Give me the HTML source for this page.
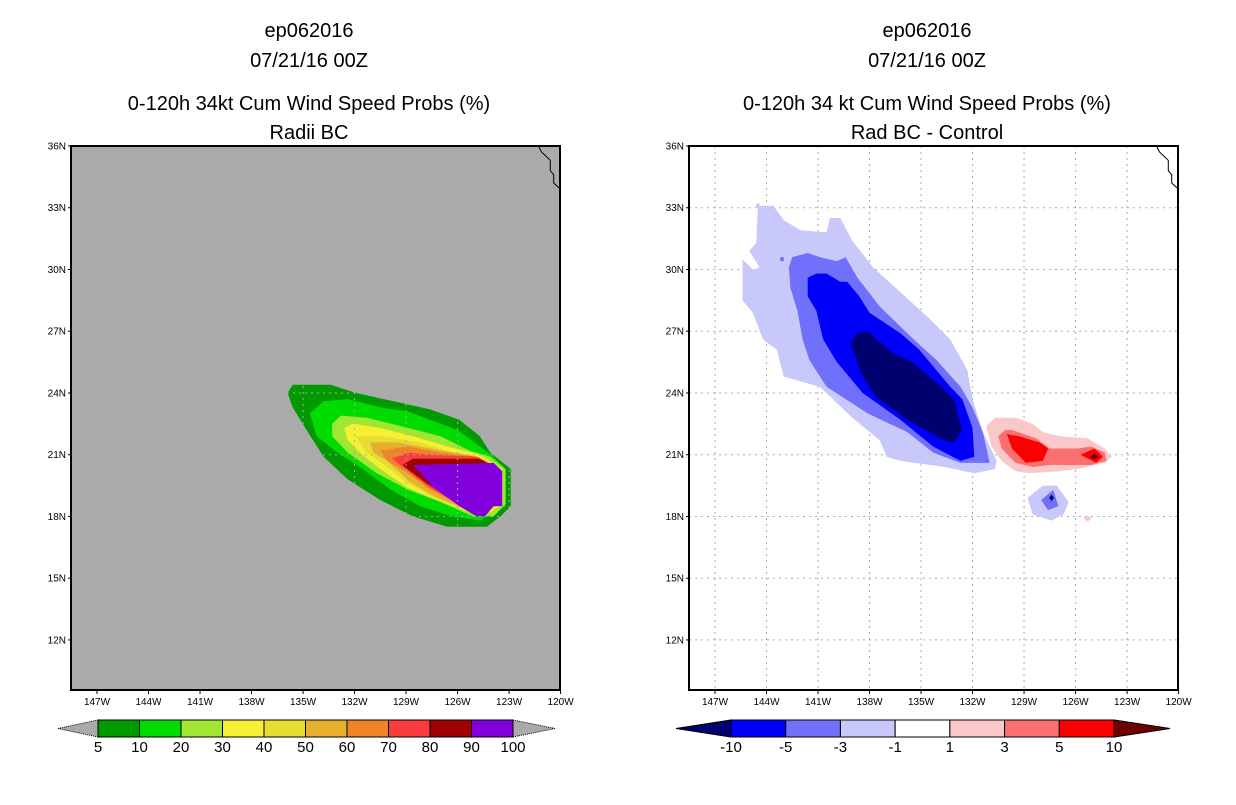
<!DOCTYPE html>
<html><head><meta charset="utf-8"><style>
body{margin:0;background:#fff;width:1236px;height:800px;overflow:hidden;font-family:"Liberation Sans",sans-serif}
svg text{font-family:"Liberation Sans",sans-serif}
</style></head><body>
<svg id="s" width="1236" height="800" xmlns="http://www.w3.org/2000/svg">
<defs><clipPath id="clipL"><polygon id="clipPoly" points=""/></clipPath></defs>
<g font-size="20" text-anchor="middle" fill="#000">
<text x="309" y="37">ep062016</text><text x="309" y="67">07/21/16 00Z</text>
<text x="309" y="110">0-120h 34kt Cum Wind Speed Probs (%)</text><text x="309" y="139">Radii BC</text></g>
<g font-size="20" text-anchor="middle" fill="#000">
<text x="927" y="37">ep062016</text><text x="927" y="67">07/21/16 00Z</text>
<text x="927" y="110">0-120h 34 kt Cum Wind Speed Probs (%)</text><text x="927" y="139">Rad BC - Control</text></g>
<rect x="71" y="146" width="489" height="544" fill="#aaaaaa"/>
<rect x="689" y="146" width="489" height="544" fill="#fff"/>
<g id="L"></g>
<g id="LG" clip-path="url(#clipL)"></g>
<g id="R"></g>
<g id="A"></g>
<g id="CB"></g>
</svg>
<script>
const lonTicks=[147,144,141,138,135,132,129,126,123,120];
const latTicks=[36,33,30,27,24,21,18,15,12];
const leftLevels=[5,10,20,30,40,50,60,70,80,90,100];
const leftColors=["#009a00","#00dc00","#a0e632","#f5f032","#e6dc32","#e6af2d","#f08228","#fa3c3c","#a00000","#8200dc"];
const rightLabels=["-10","-5","-3","-1","1","3","5","10"];
const rightColors=["#000070","#0000fa","#7070fa","#c8c8fa","#ffffff","#fac8c8","#fa7070","#fa0000","#6e0000"];
const L5=[[135.9,24.0],[135.6,24.4],[133.4,24.4],[131.9,24.0],[129.2,23.5],[127.6,23.2],[125.9,22.7],[124.7,21.9],[124.1,21.1],[122.9,20.3],[122.9,18.5],[123.5,18.0],[124.3,17.5],[126.6,17.5],[128.6,18.0],[130.5,18.8],[132.4,19.8],[133.8,20.9],[134.8,22.2],[135.6,23.3]];
const L10=[[134.6,23.0],[133.8,23.6],[132.4,23.7],[130.5,23.3],[128.9,23.1],[127.6,22.7],[126.0,22.2],[124.7,21.4],[123.9,20.9],[123.2,20.3],[123.2,18.5],[124.7,17.8],[126.3,18.0],[128.2,18.5],[129.9,19.3],[131.5,20.3],[133.0,21.1],[134.2,21.9]];
const L20=[[133.3,22.5],[132.8,22.9],[131.3,22.8],[128.9,22.3],[127.0,21.9],[125.3,21.2],[124.1,20.9],[123.2,20.3],[123.2,18.6],[123.9,18.0],[125.1,18.0],[127.0,18.7],[128.9,19.3],[130.7,20.1],[132.4,21.1],[133.3,21.9]];
const L30=[[132.6,22.3],[132.1,22.5],[130.5,22.3],[128.6,21.9],[126.6,21.4],[124.7,21.0],[123.4,20.3],[123.4,18.6],[124.1,18.2],[125.3,18.2],[127.2,18.8],[128.9,19.4],[130.5,20.3],[131.7,21.1],[132.4,21.7]];
const L40=[[131.9,21.9],[130.5,21.9],[128.2,21.6],[126.6,21.2],[124.7,20.9],[123.4,20.3],[123.4,18.6],[124.2,18.3],[125.5,18.3],[127.4,18.9],[128.9,19.6],[130.1,20.4],[131.3,21.1],[131.7,21.6]];
const L50=[[131.1,21.6],[129.5,21.6],[127.6,21.3],[124.9,20.9],[123.5,20.3],[123.5,18.6],[124.3,18.3],[125.7,18.4],[127.4,19.0],[128.8,19.7],[130.1,20.7],[130.9,21.1]];
const L60=[[130.5,21.2],[128.9,21.4],[127.0,21.1],[124.9,20.9],[123.5,20.3],[123.5,18.6],[124.4,18.4],[125.7,18.5],[127.6,19.3],[128.9,20.1],[130.1,20.7]];
const L70=[[129.8,20.8],[128.9,21.1],[127.4,21.0],[124.9,20.9],[123.6,20.3],[123.6,18.6],[124.5,18.5],[125.9,18.6],[127.6,19.4],[129.2,20.4]];
const L80=[[129.2,20.5],[128.6,20.8],[124.7,20.8],[123.6,20.3],[123.6,18.6],[124.5,18.6],[126.0,18.7],[127.8,19.6],[128.9,20.3]];
const L90=[[128.6,20.5],[123.9,20.6],[123.4,20.2],[123.4,18.5],[123.9,18.5],[124.4,18.0],[124.9,18.0],[125.9,18.5],[127.4,19.4]];
const RLB=[[144.5,33.1],[143.6,33.1],[143.0,32.4],[142.0,31.9],[140.5,31.8],[140.3,32.5],[139.7,32.5],[139.0,31.4],[137.8,30.1],[136.2,28.9],[134.5,27.6],[133.3,26.6],[132.3,25.1],[132.0,23.7],[131.4,22.1],[130.6,20.7],[130.7,20.3],[131.9,20.1],[133.6,20.4],[136.2,20.7],[137.0,20.9],[137.4,21.7],[139.0,22.8],[140.9,24.3],[143.0,24.8],[143.4,26.1],[144.2,26.6],[144.8,27.9],[145.4,28.5],[145.4,29.6],[145.4,30.5],[144.8,30.0],[144.4,30.1],[145.0,30.9],[144.6,31.3]];
const RMB=[[142.7,30.1],[142.5,30.6],[141.6,30.8],[140.9,30.6],[139.9,30.4],[139.4,30.6],[138.7,29.6],[137.4,28.2],[135.8,26.9],[134.9,26.2],[134.1,25.6],[132.7,24.3],[132.0,23.3],[131.4,22.1],[131.0,20.6],[132.7,20.6],[134.3,21.1],[135.8,22.1],[138.1,23.0],[140.5,24.3],[141.5,25.6],[141.9,26.6],[142.2,28.0],[142.6,29.1]];
const RB=[[141.6,29.6],[141.1,29.8],[140.5,29.8],[139.7,29.4],[139.3,29.4],[138.6,28.7],[138.0,27.9],[136.2,26.9],[135.1,26.1],[133.3,24.3],[132.6,23.7],[132.0,22.3],[131.9,20.9],[132.7,20.7],[134.3,21.4],[136.2,22.7],[138.4,24.0],[139.9,25.5],[140.7,26.6],[141.1,28.0],[141.6,28.7]];
const RN=[[139.1,26.4],[138.7,26.9],[138.1,27.0],[136.6,25.9],[135.5,25.5],[134.1,24.5],[133.1,23.7],[132.6,22.2],[133.1,21.6],[133.7,21.7],[135.8,22.7],[137.6,23.8],[138.4,24.8],[138.7,25.5]];
const RP=[[131.2,22.4],[130.7,22.8],[129.5,22.8],[128.5,22.5],[127.9,22.1],[126.9,21.9],[125.3,21.8],[124.3,21.3],[123.9,20.9],[124.3,20.6],[125.9,20.3],[126.9,20.2],[128.7,20.1],[129.5,20.2],[130.3,20.7],[130.9,21.4]];
const RS=[[130.5,21.9],[130.1,22.2],[129.7,22.2],[128.3,21.8],[127.5,21.3],[126.7,21.3],[125.9,21.3],[125.1,21.4],[124.3,21.1],[124.2,20.7],[125.1,20.5],[126.3,20.5],[127.5,20.5],[128.5,20.4],[129.5,20.6],[130.3,21.3]];
const RR1=[[130.0,22.0],[129.3,21.9],[128.1,21.6],[127.6,21.3],[127.9,20.7],[128.9,20.6],[129.7,21.3]];
const RR2=[[125.7,21.0],[124.9,21.3],[124.4,20.9],[124.8,20.6]];
const RD=[[125.15,20.9],[124.9,21.05],[124.65,20.9],[124.9,20.75]];
const SBL=[[128.8,18.9],[127.9,19.5],[127.1,19.5],[126.4,18.7],[126.7,18.1],[127.4,17.8],[128.5,18.1]];
const SBM=[[128.0,18.8],[127.3,19.3],[127.0,18.5],[127.6,18.3]];
const SBN=[[127.55,18.9],[127.4,19.05],[127.25,18.9],[127.4,18.75]];
const PD=[[125.55,17.9],[125.3,18.05],[125.05,17.9],[125.3,17.75]];
const DOT1=[[144.6,33.2],[144.4,33.2],[144.4,33.0],[144.6,33.0]];
const DOT2=[[143.2,30.6],[143.0,30.6],[143.0,30.4],[143.2,30.4]];
const COAST=[[121.3,36],[121.1,35.7],[120.9,35.55],[120.6,35.3],[120.6,34.8],[120.4,34.6],[120.4,34.2],[120,33.9]];

const NS="http://www.w3.org/2000/svg";
function xL(lon){return 97+(147-lon)*17.17;}
function xR(lon){return 715+(147-lon)*17.17;}
function yP(lat){return 146+(36-lat)*20.58;}
function mk(tag,attrs,parent){const e=document.createElementNS(NS,tag);for(const k in attrs)e.setAttribute(k,attrs[k]);parent.appendChild(e);return e;}
function pts(a,xf){return a.map(q=>xf(q[0]).toFixed(1)+','+yP(q[1]).toFixed(1)).join(' ');}
function poly(a,xf,fill,parent,name){
  const p=mk('polygon',{points:pts(a,xf),fill:fill},parent);
  
  
}
const Lg=document.getElementById('L'),LG=document.getElementById('LG'),Rg=document.getElementById('R'),A=document.getElementById('A'),CB=document.getElementById('CB');
[L5,L10,L20,L30,L40,L50,L60,L70,L80,L90].forEach((c,i)=>poly(c,xL,leftColors[i],Lg,'contour-'+leftLevels[i]));
document.getElementById('clipPoly').setAttribute('points',pts(L5,xL));
function grid(parent,xf,x0){
  lonTicks.forEach(l=>{const g=mk('line',{x1:xf(l),x2:xf(l),y1:146,y2:690,stroke:'#aaa','stroke-dasharray':'2,4'},parent);
  
  });
  latTicks.forEach(l=>{const g=mk('line',{x1:x0,x2:x0+489,y1:yP(l),y2:yP(l),stroke:'#aaa','stroke-dasharray':'2,4'},parent);
  
  });
}
grid(LG,xL,71);
grid(Rg,xR,689);
poly(RLB,xR,rightColors[3],Rg,'diff-minus1');
poly(RMB,xR,rightColors[2],Rg,'diff-minus3');
poly(RB,xR,rightColors[1],Rg,'diff-minus5');
poly(RN,xR,rightColors[0],Rg,'diff-minus10');
poly(DOT1,xR,rightColors[3],Rg,'diff-speck');
poly(DOT2,xR,rightColors[2],Rg,'diff-speck');
poly(RP,xR,rightColors[5],Rg,'diff-plus1');
poly(RS,xR,rightColors[6],Rg,'diff-plus3');
poly(RR1,xR,rightColors[7],Rg,'diff-plus5');
poly(RR2,xR,rightColors[7],Rg,'diff-plus5-east');
poly(RD,xR,rightColors[8],Rg,'diff-plus10');
poly(SBL,xR,rightColors[3],Rg,'blob-minus1');
poly(SBM,xR,rightColors[2],Rg,'blob-minus3');
poly(SBN,xR,rightColors[0],Rg,'blob-minus10');
poly(PD,xR,rightColors[5],Rg,'blob-plus1');
[xL,xR].forEach((xf,k)=>{
  const c=mk('polyline',{points:pts(COAST,xf),fill:'none',stroke:'#000','stroke-width':1},A);
  
  
  const x0=k?689:71;
  const f=mk('rect',{x:x0,y:146,width:489,height:544,fill:'none',stroke:'#000','stroke-width':2},A);
  
  
  lonTicks.forEach(l=>{const x=xf(l);
    mk('line',{x1:x,x2:x,y1:690,y2:694,stroke:'#000'},A);
    const t=mk('text',{x:x,y:705,'font-size':10,'text-anchor':'middle'},A);t.textContent=l+'W';
    
    });
  latTicks.forEach(l=>{const y=yP(l);
    mk('line',{x1:x0-3,x2:x0,y1:y,y2:y,stroke:'#000'},A);
    const t=mk('text',{x:x0-5,y:y+3.5,'font-size':10,'text-anchor':'end'},A);t.textContent=l+'N';
    
    });
});
(function(){const x0=98,w=(513-98)/leftColors.length,y=720,h=17;
  const t1=mk('polygon',{points:`58,${y+h/2} ${x0},${y} ${x0},${y+h}`,fill:'#aaa',stroke:'#000','stroke-dasharray':'1,1'},CB);
  
  
  const t2=mk('polygon',{points:`555,${y+h/2} 513,${y} 513,${y+h}`,fill:'#aaa',stroke:'#000','stroke-dasharray':'1,1'},CB);
  
  
  leftColors.forEach((c,i)=>{const r=mk('rect',{x:x0+i*w,y:y,width:w,height:h,fill:c,stroke:'#000'},CB);
    
    });
  leftLevels.forEach((v,i)=>{const t=mk('text',{x:x0+i*w,y:752,'font-size':15,'text-anchor':'middle'},CB);t.textContent=v;
    
    });
})();
(function(){const x0=731,n=rightColors.length-2,w=(1114-731)/n,y=720,h=17;
  const t1=mk('polygon',{points:`676,${y+h/2} ${x0},${y} ${x0},${y+h}`,fill:rightColors[0],stroke:'#000'},CB);
  
  
  const t2=mk('polygon',{points:`1170,${y+h/2} 1114,${y} 1114,${y+h}`,fill:rightColors[rightColors.length-1],stroke:'#000'},CB);
  
  
  for(let i=0;i<n;i++){const r=mk('rect',{x:x0+i*w,y:y,width:w,height:h,fill:rightColors[i+1],stroke:'#000'},CB);
    
    }
  rightLabels.forEach((v,i)=>{const t=mk('text',{x:x0+i*w,y:752,'font-size':15,'text-anchor':'middle'},CB);t.textContent=v;
    
    });
})();
</script>
</body></html>
